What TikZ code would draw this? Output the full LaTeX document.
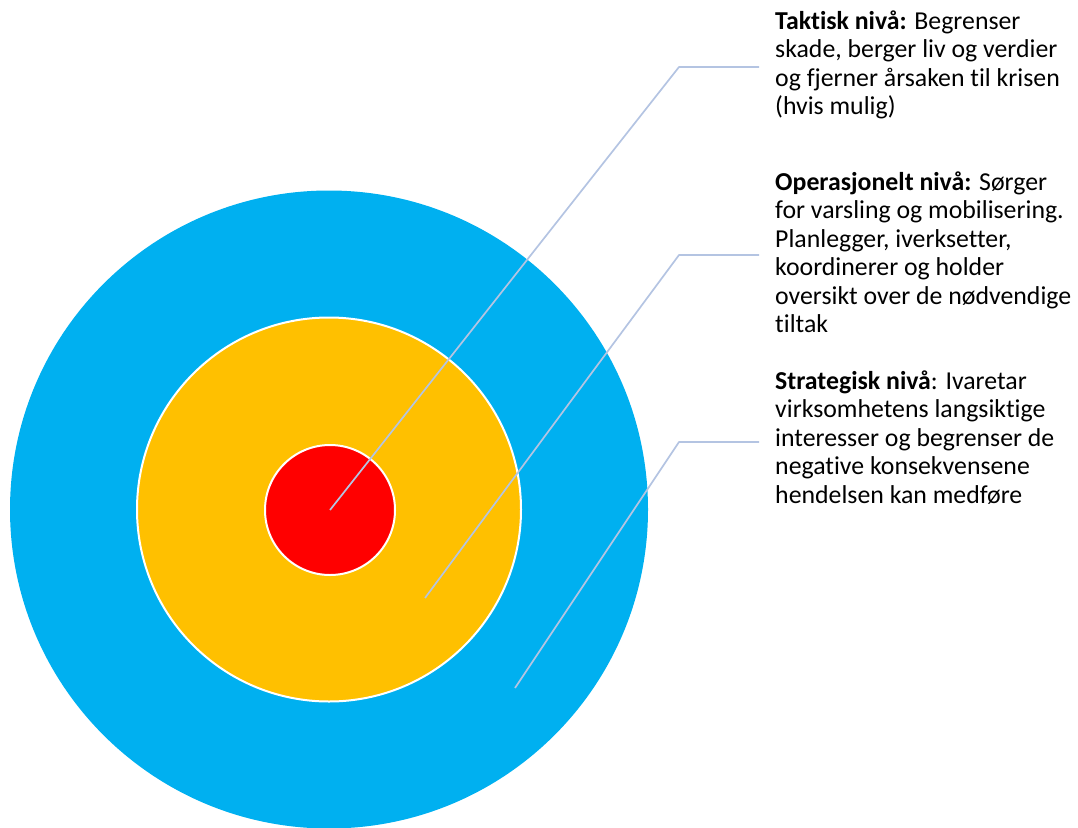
\documentclass[tikz,border=0pt]{standalone}
\usepackage{fontspec}
\setmainfont{Carlito}[Ligatures={NoCommon}]
\definecolor{ringblue}{HTML}{00B0F0}
\definecolor{ringorange}{HTML}{FFC000}
\definecolor{ringred}{HTML}{FF0000}
\definecolor{leadercol}{HTML}{B4C4E2}
\begin{document}
\begin{tikzpicture}[x=1pt,y=-1pt,
  ring/.style={circle, inner sep=0pt, draw=white, line width=2pt},
  leader/.style={draw=leadercol, line width=1.7pt, line join=round},
  desc/.style={inner sep=0pt, align=left, anchor=base west,
    font=\fontsize{25.8}{28.5}\selectfont}]
\useasboundingbox (0,0) rectangle (1078,827);
% concentric levels
\begin{scope}
  \clip (0,0) rectangle (1078,827);
  \node[ring, draw=none, fill=ringblue, minimum size=638pt] (strat) at (329,509.5) {};
  \node[ring, fill=ringorange, minimum size=384pt] (oper) at (329,509.5) {};
  \node[ring, fill=ringred, minimum size=130pt] (takt) at (330,510) {};
\end{scope}
% leader line anchor points
\coordinate (p2) at (425,598);
\coordinate (p3) at (515,688);
\coordinate (k1) at (679,67);
\coordinate (k2) at (679,255);
\coordinate (k3) at (679,442);
\coordinate (e1) at (759,67);
\coordinate (e2) at (759,255);
\coordinate (e3) at (759,442);
% descriptions (anchored at the baseline of their last line)
\node[desc] (tdesc) at (775,114.5) {\textbf{Taktisk nivå:} Begrenser\\skade, berger liv og verdier\\og fjerner årsaken til krisen\\(hvis mulig)};
\node[desc] (odesc) at (775,332.5) {\textbf{Operasjonelt nivå:} Sørger\\for varsling og mobilisering.\\Planlegger, iverksetter,\\koordinerer og holder\\oversikt over de nødvendige\\tiltak};
\node[desc] (sdesc) at (775,503) {\textbf{Strategisk nivå}: Ivaretar\\virksomhetens langsiktige\\interesser og begrenser de\\negative konsekvensene\\hendelsen kan medføre};
% leaders
\draw[leader] (takt.center) -- (k1) -- (e1);
\draw[leader] (p2) -- (k2) -- (e2);
\draw[leader] (p3) -- (k3) -- (e3);
\end{tikzpicture}
\end{document}
